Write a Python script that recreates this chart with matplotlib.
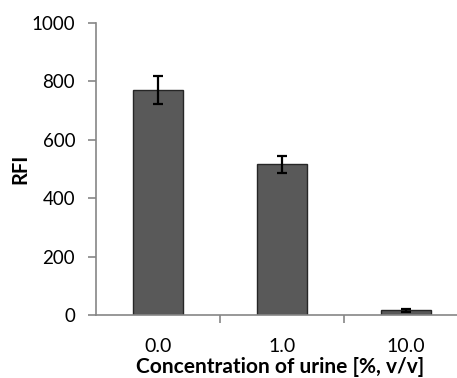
import numpy as np
import matplotlib.pyplot as plt

plt.rcParams['font.family'] = ['Lato', 'DejaVu Sans']

# data
categories = ['0.0', '1.0', '10.0']
rfi = [770, 516, 15]
rfi_err = [47, 29, 4]

fig = plt.figure(figsize=(4.57, 3.78), dpi=100)
ax = fig.add_axes([0.210, 0.167, 0.814, 0.772])

x = np.arange(len(categories))
ax.bar(x, rfi, width=0.4, color='#595959', edgecolor='#262626', linewidth=1.0,
       yerr=rfi_err, capsize=3.5, error_kw=dict(ecolor='black', elinewidth=1.6, capthick=1.6))

ax.set_xlim(-0.5, 2.5)
ax.set_ylim(0, 1000)
ax.set_yticks([0, 200, 400, 600, 800, 1000])

# x ticks sit between categories, labels centred on bars
ax.set_xticks(x)
ax.set_xticklabels(categories)
ax.set_xticks([0.5, 1.5], minor=True)
ax.tick_params(axis='x', which='major', length=0, pad=17, labelsize=14)
ax.tick_params(axis='x', which='minor', length=6, color='#868686', width=1.2)
ax.tick_params(axis='y', length=6, color='#868686', width=1.2, labelsize=13.5, pad=9)

for s in ['top', 'right']:
    ax.spines[s].set_visible(False)
for s in ['left', 'bottom']:
    ax.spines[s].set_color('#868686')
    ax.spines[s].set_linewidth(1.2)

ax.set_ylabel('RFI', fontsize=14.5, fontweight='bold')
ax.yaxis.set_label_coords(-0.175, 0.5)
ax.set_xlabel('Concentration of urine [%, v/v]', fontsize=15, fontweight='bold')
ax.xaxis.set_label_coords(0.495, -0.145)

fig.savefig('out.png', dpi=100)
